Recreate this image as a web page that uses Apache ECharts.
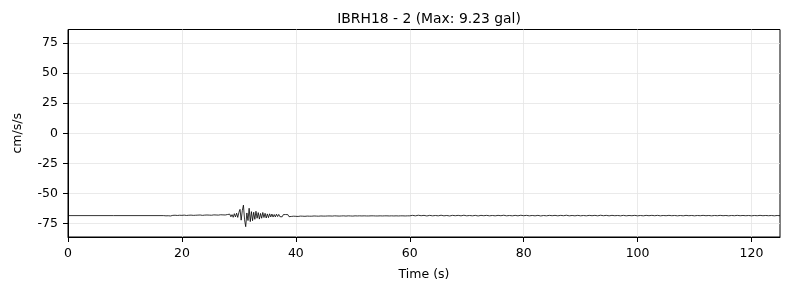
<!DOCTYPE html>
<html>
<head>
<meta charset="utf-8">
<script src="https://cdn.jsdelivr.net/npm/echarts@6/dist/echarts.min.js"></script>
<style>html,body{margin:0;padding:0;background:#fff;}#c{width:790px;height:290px;}</style>
</head>
<body>
<div id="c"></div>
<script>
const TITLE = 'IBRH18 - 2 (Max: 9.23 gal)';
const X_NAME = 'Time (s)';
const Y_NAME = 'cm/s/s';
const xTicks = [0, 20, 40, 60, 80, 100, 120];
const yTicks = [-75, -50, -25, 0, 25, 50, 75];
const OFFSET = -68.5;

// quiet pre-event part
const preTime = [0, 8, 16.8];
const preAcc = [0, 0, 0];

// main part, sampled every 0.2 s from 17.0 s
const mainStart = 17.0, mainStep = 0.2;
const mainAcc = [
  0.1,-0.2,0.3,-0.1,0.2,-0.3,0.1,0.2,-0.2,0.3,-0.3,0.1,-0.1,0.3,-0.2,
  0.2,-0.3,0.4,-0.2,0.1,-0.4,0.3,-0.1,0.4,-0.3,0.2,-0.4,0.3,-0.2,0.4,
  -0.3,0.5,-0.4,0.2,-0.5,0.4,-0.3,0.5,-0.2,0.4,-0.5,0.3,-0.4,0.6,-0.3,
  0.5,-0.6,0.4,-0.5,0.7,-0.4,0.6,-0.8,0.5,-0.7,
  0.9,-0.6,1.2,-1.0,0.8,-1.4,1.6,-1.1,2.0,-1.5,
  2.6,5.2,-3.8,4.1,8.7,-3.5,-9.23,2.2,-4.1,6.1,
  -5.0,3.3,-4.2,2.8,-3.1,3.6,-2.2,2.5,-2.9,1.8,
  -2.2,2.6,-1.6,1.9,-2.0,1.4,-1.7,1.5,-1.1,1.3,
  -1.2,0.9,-1.1,1.2,-0.8,1.0,-0.9,0.7,-1.0,0.8,
  -0.7,0.9,-0.6,0.8,-0.9,0.6,-0.7,0.8,-0.5,0.7,
  -0.6,0.5,-0.7,0.6,-0.4,0.7,-0.5,0.4,-0.6,0.5,
  -0.4,0.6,-0.5,0.3,-0.5,0.4,-0.3,0.5,-0.4,0.3,
  -0.5,0.4,-0.3,0.5,-0.4,0.3,-0.4,0.5,-0.3,0.4,
  -0.3,0.4,-0.4,0.3,-0.2,0.4,-0.3,0.3,-0.4,0.2,
  -0.3,0.4,-0.2,0.3,-0.4,0.3,-0.2,0.4,-0.3,0.2,
  -0.4,0.3,-0.2,0.3,-0.3,0.4,-0.2,0.3,-0.3,0.2,
  -0.2,0.3,-0.3,0.2,-0.3,0.3,-0.2,0.4,-0.2,0.3,
  -0.3,0.2,-0.3,0.3,-0.2,0.2,-0.3,0.3,-0.2,0.3,
  -0.2,0.3,-0.3,0.2,-0.2,0.3,-0.3,0.2,-0.2,0.3,
  -0.3,0.2,-0.2,0.3,-0.2,0.2,-0.3,0.2,-0.2,0.3,
  -0.2
];

// coda, sampled every 0.5 s from 60.5 s
const codaStart = 60.5, codaStep = 0.5;
const codaAcc = [
  0.2,-0.2,0.3,-0.1,0.2,-0.3,0.2,-0.2,0.1,-0.2,
  0.3,-0.2,0.1,-0.3,0.2,-0.1,0.2,-0.2,0.3,-0.2,
  0.1,-0.2,0.2,-0.3,0.2,-0.1,0.2,-0.2,0.1,-0.2,
  0.2,-0.1,0.3,-0.2,0.1,-0.2,0.2,-0.2,0.3,-0.1,
  0.2,-0.2,0.1,-0.2,0.2,-0.3,0.1,-0.2,0.2,-0.1,
  0.2,-0.2,0.2,-0.1,0.3,-0.2,0.1,-0.2,0.2,-0.2,
  0.1,-0.2,0.2,-0.1,0.2,-0.2,0.3,-0.1,0.2,-0.2,
  0.2,-0.1,0.1,-0.2,0.2,-0.2,0.1,-0.1,0.2,-0.2,
  0.1,-0.2,0.2,-0.1,0.2,-0.1,0.2,-0.2,0.1,-0.1,
  0.2,-0.1,0.1,-0.2,0.1,-0.2,0.2,-0.1,0.1,-0.2,
  0.1,-0.1,0.2,-0.1,0.1,-0.2,0.1,-0.1,0.2,-0.1,
  0.1,-0.2,0.1,-0.1,0.2,-0.1,0.1,-0.1,0.1,-0.2,
  0.1,-0.1,0.2,-0.1,0.1,-0.1,0.1,-0.2,0.1,-0.1
];

const points = [];
preTime.forEach((t, i) => points.push([t, preAcc[i] + OFFSET]));
mainAcc.forEach((a, i) => points.push([+(mainStart + i * mainStep).toFixed(2), a + OFFSET]));
codaAcc.forEach((a, i) => points.push([+(codaStart + i * codaStep).toFixed(2), a + OFFSET]));

const FONT = 'DejaVu Sans';
const chart = echarts.init(document.getElementById('c'), null, { renderer: 'canvas' });
chart.setOption({
  animation: false,
  backgroundColor: '#fff',
  title: {
    text: TITLE, left: 424, top: 7, textAlign: 'center',
    textStyle: { fontFamily: FONT, fontSize: 13.9, fontWeight: 'normal', color: '#000' }
  },
  grid: { left: 68, right: 10, top: 29.5, bottom: 53, show: true, borderColor: '#000', borderWidth: 1, containLabel: false },
  xAxis: {
    type: 'value', min: 0, max: 125,
    name: X_NAME, nameLocation: 'middle', nameGap: 31,
    nameTextStyle: { fontFamily: FONT, fontSize: 12.5, color: '#000' },
    axisLine: { show: true, onZero: false, lineStyle: { color: '#000', width: 1 } },
    axisTick: { show: true, inside: false, length: 5, customValues: xTicks, lineStyle: { color: '#000' } },
    axisLabel: { customValues: xTicks, margin: 10, fontFamily: FONT, fontSize: 12.5, color: '#000' },
    splitLine: { show: true, lineStyle: { color: '#e5e5e5', width: 0.8 } }
  },
  yAxis: {
    type: 'value', min: -86.3, max: 86.3,
    name: Y_NAME, nameLocation: 'middle', nameGap: 44,
    nameTextStyle: { fontFamily: FONT, fontSize: 12.5, color: '#000' },
    axisLine: { show: true, onZero: false, lineStyle: { color: '#000', width: 1 } },
    axisTick: { show: true, inside: false, length: 5, customValues: yTicks, lineStyle: { color: '#000' } },
    axisLabel: { customValues: yTicks, margin: 10, fontFamily: FONT, fontSize: 12.5, color: '#000' },
    splitLine: { show: true, lineStyle: { color: '#e5e5e5', width: 0.8 } }
  },
  series: [{
    type: 'line', data: points, showSymbol: false, symbol: 'none',
    sampling: null, smooth: false,
    lineStyle: { color: '#000', width: 0.8 }, silent: true
  }]
});
</script>
</body>
</html>
